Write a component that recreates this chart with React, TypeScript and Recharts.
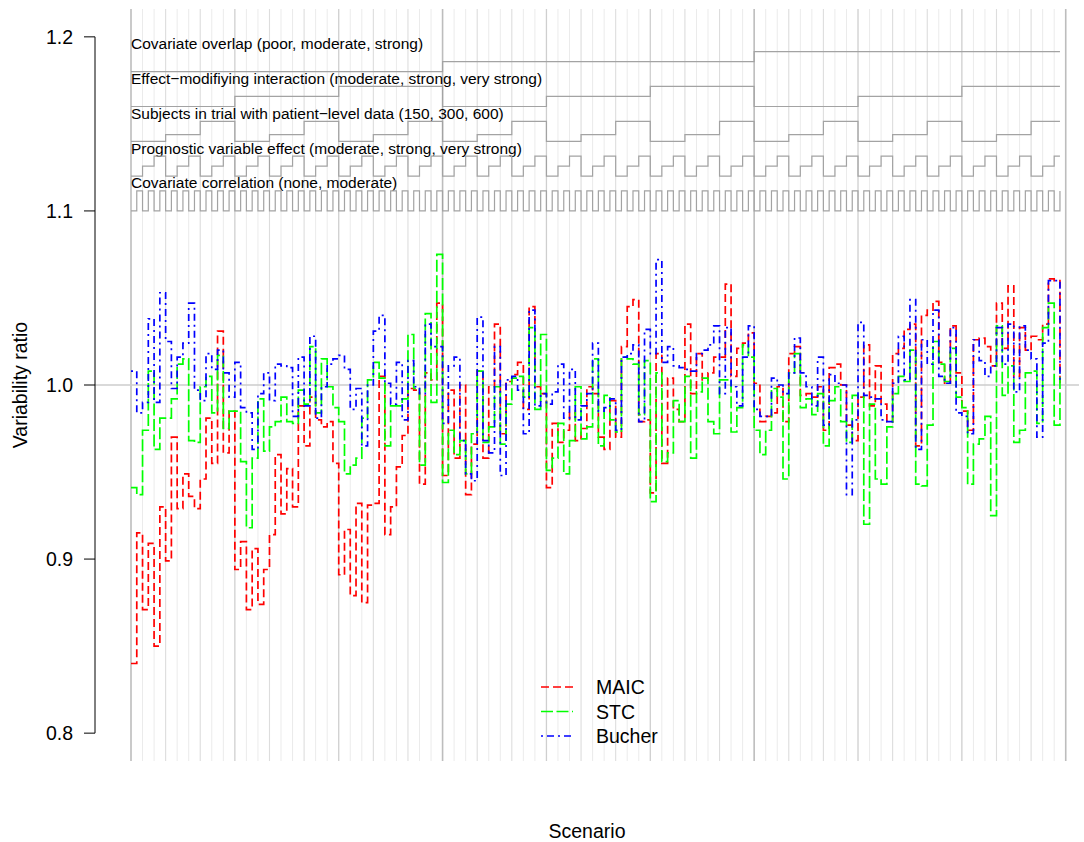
import React from 'react';
import { ComposedChart, Line, XAxis, YAxis, ReferenceLine, Legend, Label } from 'recharts';

// ---------- data ----------
const maicValues = [
  0.840, 0.915, 0.871, 0.909, 0.850, 0.930, 0.899, 0.970, 0.929, 0.949, 0.936, 0.929, 0.946, 0.981, 0.955, 1.031, 0.961, 0.985,
  0.894, 0.910, 0.871, 0.906, 0.874, 0.894, 0.914, 0.960, 0.926, 0.952, 0.930, 0.988, 0.965, 0.993, 0.980, 0.976, 0.979, 0.955,
  0.891, 0.917, 0.879, 0.932, 0.875, 0.931, 0.932, 1.005, 0.914, 0.930, 0.953, 0.971, 0.998, 0.997, 0.943, 1.007, 1.003, 1.047,
  0.948, 0.997, 0.958, 1.000, 0.937, 0.966, 1.008, 0.958, 0.999, 1.035, 0.972, 1.002, 1.006, 1.013, 0.986, 1.045, 0.999, 0.995,
  0.941, 0.978, 0.967, 0.974, 0.984, 0.968, 0.975, 0.999, 0.995, 0.970, 0.963, 0.991, 0.970, 1.022, 1.045, 1.049, 0.979, 0.980,
  0.938, 1.018, 0.955, 1.004, 0.986, 0.979, 1.035, 0.995, 1.018, 1.003, 1.007, 1.016, 1.016, 1.058, 1.005, 1.021, 1.024, 1.030,
  1.001, 0.979, 0.982, 0.984, 0.999, 0.979, 1.018, 1.022, 0.994, 0.995, 0.993, 0.999, 0.974, 1.010, 1.012, 1.000, 0.977, 0.968,
  0.993, 1.023, 0.988, 1.011, 0.989, 0.979, 1.018, 1.021, 1.032, 1.035, 0.965, 1.040, 1.043, 1.048, 1.013, 1.001, 1.034, 1.007,
  0.985, 0.974, 1.026, 1.027, 1.022, 1.011, 1.047, 1.021, 1.057, 1.005, 1.033, 1.020, 1.028, 1.026, 1.035, 1.061, 1.060, 1.001,
];

const stcValues = [
  0.941, 0.937, 0.974, 1.008, 0.963, 0.981, 0.981, 0.992, 1.012, 1.015, 0.968, 0.967, 0.999, 1.005, 0.984, 1.017, 0.975, 0.985,
  0.985, 0.956, 0.918, 0.958, 0.992, 0.962, 0.976, 0.979, 0.993, 0.979, 0.978, 0.997, 0.989, 1.022, 0.984, 1.015, 0.999, 0.987,
  0.979, 0.949, 0.954, 0.958, 0.981, 1.003, 1.013, 1.004, 0.965, 0.988, 0.988, 0.992, 1.029, 0.998, 0.954, 1.041, 0.990, 1.075,
  0.944, 0.974, 0.960, 0.968, 0.949, 0.972, 1.008, 0.967, 0.976, 0.999, 0.966, 0.989, 1.004, 1.005, 0.993, 1.033, 0.986, 1.029,
  0.951, 0.958, 0.978, 0.949, 0.968, 0.999, 0.969, 0.976, 1.015, 0.965, 0.994, 0.980, 0.973, 1.016, 1.015, 1.012, 0.983, 1.014,
  0.933, 1.007, 0.956, 0.961, 0.991, 0.979, 1.005, 0.958, 0.996, 1.004, 0.979, 0.972, 1.003, 1.003, 0.973, 0.987, 1.023, 1.016,
  0.974, 0.960, 0.974, 0.998, 0.993, 0.946, 1.007, 1.018, 0.987, 0.992, 0.983, 0.995, 0.965, 0.991, 0.999, 0.979, 0.967, 0.994,
  0.993, 0.920, 0.989, 0.946, 0.943, 0.976, 0.995, 1.005, 1.002, 1.020, 0.943, 0.942, 0.977, 1.025, 1.012, 1.002, 1.021, 0.993,
  0.987, 0.943, 0.966, 0.969, 0.982, 0.925, 1.034, 0.994, 1.011, 0.967, 0.974, 1.007, 1.008, 0.978, 1.033, 1.047, 0.977, 1.007,
];

const bucherValues = [
  1.008, 0.984, 0.990, 1.038, 0.990, 1.053, 1.025, 0.998, 1.016, 1.024, 1.047, 0.997, 0.991, 1.018, 1.009, 1.020, 1.007, 0.993,
  1.013, 0.987, 0.984, 0.963, 0.995, 1.007, 0.991, 1.012, 1.011, 1.010, 0.982, 1.016, 0.988, 1.028, 0.981, 0.999, 1.012, 1.015,
  1.017, 1.009, 0.986, 0.998, 0.965, 1.000, 1.031, 1.040, 1.001, 0.989, 1.013, 0.980, 1.014, 0.999, 0.995, 1.035, 1.022, 1.022,
  0.978, 1.011, 1.016, 0.968, 0.949, 0.945, 1.039, 0.968, 0.961, 1.022, 0.948, 1.003, 1.005, 0.997, 0.972, 1.043, 0.988, 0.995,
  0.989, 0.996, 1.012, 0.981, 1.009, 0.980, 0.988, 0.995, 1.024, 0.985, 0.987, 0.992, 0.974, 1.016, 1.018, 1.023, 0.979, 1.032,
  1.018, 1.072, 1.013, 1.022, 1.011, 1.010, 1.009, 1.008, 1.018, 1.020, 1.023, 1.034, 0.995, 1.033, 0.999, 0.988, 1.016, 1.034,
  0.986, 0.982, 0.982, 1.004, 1.000, 0.995, 1.007, 1.027, 1.007, 0.999, 0.988, 1.016, 0.977, 1.006, 1.001, 1.000, 0.937, 0.980,
  1.036, 0.994, 0.993, 0.992, 0.980, 0.979, 1.001, 1.028, 1.003, 1.049, 0.963, 1.026, 1.012, 1.043, 1.005, 1.001, 1.033, 0.984,
  0.982, 0.972, 1.026, 1.014, 1.005, 1.011, 1.033, 1.012, 1.035, 0.996, 1.034, 1.020, 1.015, 0.970, 1.024, 1.060, 1.060, 1.001,
];

// simulation design factors (outermost first)
const overlapLevels = ['poor', 'moderate', 'strong'];
const interactionLevels = ['moderate', 'strong', 'very strong'];
const subjectLevels = [150, 300, 600];
const prognosticLevels = ['moderate', 'strong', 'very strong'];
const correlationLevels = ['none', 'moderate'];

const factorLabels = [
  'Covariate overlap (poor, moderate, strong)',
  'Effect\u2212modifiying interaction (moderate, strong, very strong)',
  'Subjects in trial with patient\u2212level data (150, 300, 600)',
  'Prognostic variable effect (moderate, strong, very strong)',
  'Covariate correlation (none, moderate)',
];

const seriesNames = ['MAIC', 'STC', 'Bucher'];
const yTickValues = [0.8, 0.9, 1.0, 1.1, 1.2];
const xTitle = 'Scenario';
const yTitle = 'Variability ratio';
const referenceValue = 1.0;

// ---------- layout / style ----------
const FONT = '"Liberation Sans", Arial, Helvetica, sans-serif';
const W = 1084;
const H = 842;
const X_MIN = -6.2394;
const X_MAX = 164.3;
const Y_MIN = 0.784;
const Y_MAX = 1.216;
const bandBase = [1.18, 1.16, 1.14, 1.12, 1.1];
const bandHeight = 0.0115;

const seriesStyles = [
  { key: 'maic', color: '#ff0000', dash: '8 4' },
  { key: 'stc', color: '#00ff00', dash: '12 3.5' },
  { key: 'bucher', color: '#0000ff', dash: '2 4 7 4' },
];

const corrBlock = 1;
const progBlock = corrBlock * correlationLevels.length;
const subjBlock = progBlock * prognosticLevels.length;
const interBlock = subjBlock * subjectLevels.length;
const overBlock = interBlock * interactionLevels.length;
const nScen = overBlock * overlapLevels.length;

const catFrac = (idx: number, n: number) => idx / (n - 1);
const subjFrac = (v: number) =>
  (v - subjectLevels[0]) / (subjectLevels[subjectLevels.length - 1] - subjectLevels[0]);

const rows = maicValues.map((m, i) => {
  const ov = Math.floor(i / overBlock) % overlapLevels.length;
  const ia = Math.floor(i / interBlock) % interactionLevels.length;
  const su = Math.floor(i / subjBlock) % subjectLevels.length;
  const pr = Math.floor(i / progBlock) % prognosticLevels.length;
  const co = Math.floor(i / corrBlock) % correlationLevels.length;
  return {
    x: i,
    maic: m,
    stc: stcValues[i],
    bucher: bucherValues[i],
    f0: bandBase[0] + bandHeight * catFrac(ov, overlapLevels.length),
    f1: bandBase[1] + bandHeight * catFrac(ia, interactionLevels.length),
    f2: bandBase[2] + bandHeight * subjFrac(subjectLevels[su]),
    f3: bandBase[3] + bandHeight * catFrac(pr, prognosticLevels.length),
    f4: bandBase[4] + bandHeight * catFrac(co, correlationLevels.length),
  };
});

const gridXs: number[] = [];
for (let k = 0; k <= nScen; k += progBlock) gridXs.push(k);

function gridStyle(k: number) {
  if (k % overBlock === 0) return { stroke: '#bdbdbd', w: 1.6 };
  if (k % interBlock === 0) return { stroke: '#cfcfcf', w: 1.3 };
  if (k % subjBlock === 0) return { stroke: '#dddddd', w: 1.1 };
  return { stroke: '#ebebeb', w: 1 };
}

const YTitleLabel = (props: any) => {
  const vb = props.viewBox || { x: 0, y: 0, width: 0, height: 0 };
  const cx = vb.x + 27;
  const cy = vb.y + vb.height / 2;
  return (
    <text x={cx} y={cy} transform={`rotate(-90 ${cx} ${cy})`} textAnchor="middle" fontSize={19.5} fontFamily={FONT} fill="#000">
      {yTitle}
    </text>
  );
};

const XTitleLabel = (props: any) => {
  const vb = props.viewBox || { x: 0, y: 0, width: 0, height: 0 };
  return (
    <text x={vb.x + vb.width / 2} y={vb.y + 77} textAnchor="middle" fontSize={19.5} fontFamily={FONT} fill="#000">
      {xTitle}
    </text>
  );
};

const makeFactorLabel = (text: string) => (props: any) => {
  const vb = props.viewBox || { x: 0, y: 0 };
  return (
    <text x={vb.x} y={vb.y - 2.5} fontSize={15.5} fontFamily={FONT} fill="#000">
      {text}
    </text>
  );
};

const LegendBox = () => (
  <svg width={170} height={80} style={{ display: 'block' }}>
    {seriesStyles.map((s, k) => {
      const y = 15 + k * 24.5;
      return (
        <g key={s.key}>
          <line x1={13} x2={45} y1={y} y2={y} stroke={s.color} strokeWidth={1.7} strokeDasharray={s.dash} />
          <text x={68} y={y} dy="0.36em" fontSize={19.5} fontFamily={FONT} fill="#000">
            {seriesNames[k]}
          </text>
        </g>
      );
    })}
  </svg>
);

export default function App() {
  return (
    <div style={{ position: 'absolute', left: 0, top: 0, width: W, height: H, background: '#fff' }}>
      <ComposedChart width={W} height={H} data={rows} margin={{ top: 9, right: 5, bottom: 0, left: 0 }}>
        <XAxis
          dataKey="x"
          type="number"
          domain={[X_MIN, X_MAX]}
          allowDataOverflow
          tick={false}
          tickLine={false}
          axisLine={false}
          height={81}
        >
          <Label content={XTitleLabel} />
        </XAxis>
        <YAxis
          type="number"
          domain={[Y_MIN, Y_MAX]}
          allowDataOverflow
          ticks={yTickValues}
          tickFormatter={(v: number) => v.toFixed(1)}
          width={95}
          axisLine={false}
          tickLine={{ stroke: '#000', strokeWidth: 1 }}
          tickSize={11}
          tickMargin={11}
          tick={{ fontSize: 19.5, fill: '#000', fontFamily: FONT }}
        >
          <Label content={YTitleLabel} />
        </YAxis>

        {gridXs.map((k) => {
          const g = gridStyle(k);
          return <ReferenceLine key={'g' + k} x={k} stroke={g.stroke} strokeWidth={g.w} />;
        })}
        <ReferenceLine y={referenceValue} stroke="#cccccc" strokeWidth={1.3} />
        <ReferenceLine
          segment={[
            { x: X_MIN, y: yTickValues[0] },
            { x: X_MIN, y: yTickValues[yTickValues.length - 1] },
          ]}
          stroke="#000"
          strokeWidth={1}
        />

        {factorLabels.map((t, k) => (
          <ReferenceLine
            key={'fl' + k}
            segment={[
              { x: 0, y: bandBase[k] + bandHeight },
              { x: 1, y: bandBase[k] + bandHeight },
            ]}
            stroke="none"
            label={makeFactorLabel(t)}
          />
        ))}

        {['f0', 'f1', 'f2', 'f3', 'f4'].map((fk) => (
          <Line
            key={fk}
            dataKey={fk}
            type="stepAfter"
            stroke="#a3a3a3"
            strokeWidth={1.2}
            dot={false}
            activeDot={false}
            isAnimationActive={false}
            legendType="none"
          />
        ))}

        {seriesStyles.map((s) => (
          <Line
            key={s.key}
            dataKey={s.key}
            type="stepAfter"
            stroke={s.color}
            strokeWidth={1.7}
            strokeDasharray={s.dash}
            dot={false}
            activeDot={false}
            isAnimationActive={false}
          />
        ))}

        <Legend
          content={LegendBox}
          layout="vertical"
          align="center"
          verticalAlign="middle"
          wrapperStyle={{ left: 528, top: 672, width: 170, height: 80 }}
        />
      </ComposedChart>
    </div>
  );
}
